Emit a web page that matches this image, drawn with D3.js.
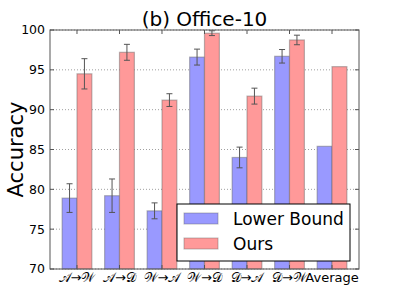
<!DOCTYPE html>
<html>
<head>
<meta charset="utf-8">
<script src="https://cdn.jsdelivr.net/npm/d3@7"></script>
<style>
  body { margin: 0; background: #fff; }
  text { font-family: "DejaVu Sans", sans-serif; }
</style>
</head>
<body>
<div id="chart"></div>
<script>
// tasks
var categories = ["𝒜→𝒲", "𝒜→𝒟", "𝒲→𝒜", "𝒲→𝒟", "𝒟→𝒜", "𝒟→𝒲", "Average"];
var lowerBound = [78.9, 79.2, 77.3, 96.6, 84.0, 96.7, 85.4];
var lowerErr   = [1.8, 2.1, 1.0, 1.0, 1.3, 0.85, 0];
var ours       = [94.5, 97.2, 91.2, 99.6, 91.7, 98.75, 95.4];
var oursErr    = [1.9, 1.0, 0.8, 0.3, 1.0, 0.6, 0];
var yTicks     = [70, 75, 80, 85, 90, 95, 100];
var seriesNames = ["Lower Bound", "Ours"];

var W = 399, H = 299;
var margin = {top: 30, right: 40, bottom: 30, left: 50};
var w = W - margin.left - margin.right,
    h = H - margin.top - margin.bottom;
var barW = 0.35;

var svg = d3.select("#chart").append("svg")
  .attr("width", W)
  .attr("height", H);

var g = svg.append("g")
  .attr("transform", "translate(" + margin.left + "," + margin.top + ")");

var x = d3.scaleLinear().domain([-0.635, categories.length - 1 + 0.635]).range([0, w]);
var y = d3.scaleLinear().domain([70, 100]).range([h, 0]);

// dotted grid
g.selectAll(".grid")
  .data(yTicks)
  .enter()
  .append("line")
  .attr("x1", 0).attr("x2", w)
  .attr("y1", function(d) { return y(d); })
  .attr("y2", function(d) { return y(d); })
  .attr("stroke", "#888")
  .attr("stroke-width", 0.8)
  .attr("stroke-dasharray", "1,2");

var series = [
  {vals: lowerBound, err: lowerErr, off: -barW, fill: "#9999ff"},
  {vals: ours, err: oursErr, off: 0, fill: "#ff9999"}
];

series.forEach(function(s) {
  g.selectAll(null)
    .data(s.vals)
    .enter()
    .append("rect")
    .attr("x", function(d, i) { return x(i + s.off); })
    .attr("y", function(d) { return y(d); })
    .attr("width", x(barW) - x(0))
    .attr("height", function(d) { return h - y(d); })
    .attr("fill", s.fill)
    .attr("stroke", "#666")
    .attr("stroke-opacity", 0.45)
    .attr("stroke-width", 1.2);

  // error bars
  var eb = g.selectAll(null)
    .data(s.vals.map(function(v, i) { return {v: v, e: s.err[i], i: i}; })
      .filter(function(d) { return d.e > 0; }))
    .enter()
    .append("g")
    .attr("stroke", "#555")
    .attr("stroke-width", 1);
  eb.append("line")
    .attr("x1", function(d) { return x(d.i + s.off + barW / 2); })
    .attr("x2", function(d) { return x(d.i + s.off + barW / 2); })
    .attr("y1", function(d) { return y(d.v - d.e); })
    .attr("y2", function(d) { return y(Math.min(100, d.v + d.e)); });
  [-1, 1].forEach(function(sign) {
    eb.append("line")
      .attr("x1", function(d) { return x(d.i + s.off + barW / 2) - 3; })
      .attr("x2", function(d) { return x(d.i + s.off + barW / 2) + 3; })
      .attr("y1", function(d) { return y(Math.min(100, d.v + sign * d.e)); })
      .attr("y2", function(d) { return y(Math.min(100, d.v + sign * d.e)); });
  });
});

// frame
g.append("rect")
  .attr("width", w).attr("height", h)
  .attr("fill", "none")
  .attr("stroke", "#555")
  .attr("stroke-width", 1);

// inward ticks on all sides
var catIdx = d3.range(categories.length);
g.selectAll(null).data(catIdx).enter().append("line")
  .attr("x1", function(d) { return x(d); }).attr("x2", function(d) { return x(d); })
  .attr("y1", 0).attr("y2", 4).attr("stroke", "#555");
g.selectAll(null).data(catIdx).enter().append("line")
  .attr("x1", function(d) { return x(d); }).attr("x2", function(d) { return x(d); })
  .attr("y1", h).attr("y2", h - 4).attr("stroke", "#555");
g.selectAll(null).data(yTicks).enter().append("line")
  .attr("x1", 0).attr("x2", 4)
  .attr("y1", function(d) { return y(d); }).attr("y2", function(d) { return y(d); })
  .attr("stroke", "#555");
g.selectAll(null).data(yTicks).enter().append("line")
  .attr("x1", w).attr("x2", w - 4)
  .attr("y1", function(d) { return y(d); }).attr("y2", function(d) { return y(d); })
  .attr("stroke", "#555");

// y tick labels
g.selectAll(".ylab")
  .data(yTicks)
  .enter()
  .append("text")
  .attr("x", -5)
  .attr("y", function(d) { return y(d); })
  .attr("dy", "0.35em")
  .attr("text-anchor", "end")
  .attr("font-size", "12.5px")
  .text(function(d) { return d; });

// x tick labels
g.selectAll(".xlab")
  .data(categories)
  .enter()
  .append("text")
  .attr("x", function(d, i) { return x(i); })
  .attr("y", h + 13)
  .attr("text-anchor", "middle")
  .attr("font-size", "13px")
  .text(function(d) { return d; });

// title + y label
svg.append("text")
  .attr("x", margin.left + w / 2)
  .attr("y", 26)
  .attr("text-anchor", "middle")
  .attr("font-size", "20px")
  .text("(b) Office-10");

svg.append("text")
  .attr("transform", "translate(23," + (margin.top + h / 2) + ") rotate(-90)")
  .attr("text-anchor", "middle")
  .attr("font-size", "21px")
  .text("Accuracy");

// legend
var lg = g.append("g").attr("transform", "translate(127,174)");
lg.append("rect")
  .attr("width", 173).attr("height", 57)
  .attr("fill", "#fff").attr("stroke", "#000").attr("stroke-width", 1);
seriesNames.forEach(function(name, i) {
  lg.append("rect")
    .attr("x", 7).attr("y", 9 + i * 25)
    .attr("width", 34).attr("height", 11)
    .attr("fill", series[i].fill)
    .attr("stroke", "#666").attr("stroke-opacity", 0.45);
  lg.append("text")
    .attr("x", 56).attr("y", 15 + i * 25)
    .attr("dy", "0.35em")
    .attr("font-size", "17px")
    .text(name);
});
</script>
</body>
</html>
